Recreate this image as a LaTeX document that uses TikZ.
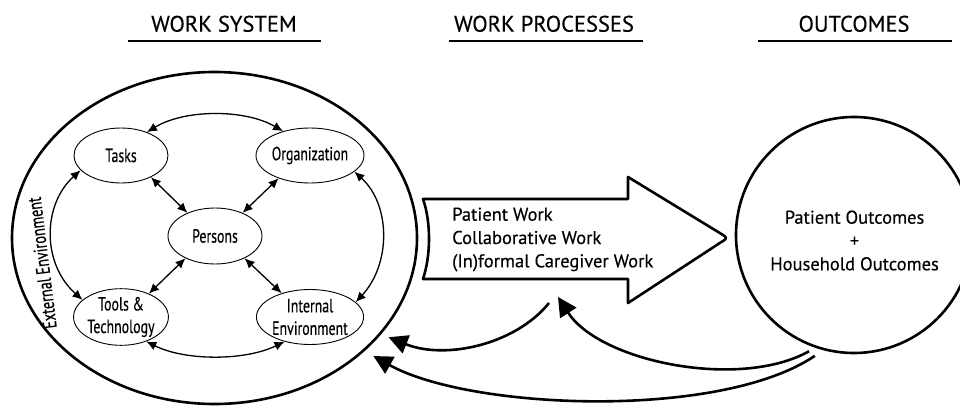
\documentclass[tikz,border=0pt]{standalone}
\usepackage{fontspec}
\setmainfont{PT Sans}[FakeBold=0.3]
\newfontfamily\condfont{PT Sans}[FakeStretch=0.73,FakeBold=0.3]
\usetikzlibrary{arrows.meta,shapes.geometric}

\begin{document}
\begin{tikzpicture}[x=1pt,y=-1pt,
  heading/.style={font=\fontsize{22.5}{27}\selectfont, anchor=base, inner sep=0pt},
  headrule/.style={line width=2pt},
  sysbox/.style={ellipse, draw, line width=2.6pt, minimum width=405pt, minimum height=332pt, inner sep=0pt},
  factor/.style={ellipse, draw, line width=0.9pt, minimum width=94pt, minimum height=55pt, inner sep=0pt,
                 align=center, font=\condfont\fontsize{19}{22.5}\selectfont},
  link/.style={line width=1.3pt, {Latex[length=10pt,width=9pt]}-{Latex[length=10pt,width=9pt]}},
  feedback/.style={line width=2.6pt, -{Triangle[length=19pt,width=19pt]}},
  blockarrow/.style={line width=2.6pt, line join=round},
  bodytext/.style={font=\fontsize{18.5}{23.3}\selectfont, inner sep=0pt},
]
\clip (0,0) rectangle (960,406);
\fill[white] (0,0) rectangle (960,406);

% column headings
\node[heading] (hws) at (224,31.7) {WORK SYSTEM};
\draw[headrule] (128,41.5) -- (321,41.5);
\node[heading] (hwp) at (544,31.7) {WORK PROCESSES};
\draw[headrule] (449,41.5) -- (643,41.5);
\node[heading] (hout) at (854,31.7) {OUTCOMES};
\draw[headrule] (758,41.5) -- (952,41.5);

% work system
\node[sysbox] (ws) at (214.5,238) {};
\node[factor] (tasks) at (121,155.5) {Tasks};
\node[factor] (org) at (310,155.5) {Organization};
\node[factor, minimum height=56pt] (persons) at (215,236) {Persons};
\node[factor] (tools) at (121,317) {Tools \&\\Technology};
\node[factor] (intenv) at (310,317) {Internal\\Environment};
\node[rotate=97, font=\condfont\fontsize{19.5}{21}\selectfont, inner sep=0pt] (extenv) at (42,263) {External Environment};

% interactions between the work system factors
\draw[link] (tasks.42) .. controls (185,109) and (245,109) .. (org.138);
\draw[link] (tools.-44) .. controls (185,361) and (245,361) .. (intenv.-136);
\draw[link] (tasks.-160) .. controls (42,205) and (42,264) .. (tools.156);
\draw[link] (org.-20) .. controls (391,205) and (391,264) .. (intenv.18);
\draw[link] (tasks.-36) -- (persons.140);
\draw[link] (org.-144) -- (persons.40);
\draw[link] (tools.40) -- (persons.-143);
\draw[link] (intenv.140) -- (persons.-37);

% work processes block arrow
\draw[blockarrow] (423,199) -- (628,199) -- (628,177) -- (720.3,233.3)
  .. controls (728,238) .. (720.3,242.7) -- (628,303) -- (628,279) -- (423,279)
  .. controls (431,255) and (431,222) .. cycle;
\node[bodytext, anchor=base west, align=left] (proc) at (452,267.3)
  {Patient Work\\Collaborative Work\\(In)formal Caregiver Work};
\coordinate (procout) at (549,303);
\coordinate (procin) at (558,297);

% outcomes
\node[circle, draw, line width=2.6pt, minimum size=236pt, inner sep=0pt] (out) at (854,235) {};
\node[bodytext, align=center] (outtxt) at (854.5,240.5)
  {Patient Outcomes\\+\\Household Outcomes};

% feedback loops
\draw[feedback, shorten >=8pt] (procout) .. controls (515,345) and (445,360) .. (ws.-30);
\draw[feedback, shorten <=7pt] (out.-109.6) .. controls (740,390) and (600,362) .. (procin);
\draw[feedback, shorten <=10pt, shorten >=10pt] (out.-105.3) .. controls (720,420) and (470,410) .. (ws.-37);
\end{tikzpicture}
\end{document}
